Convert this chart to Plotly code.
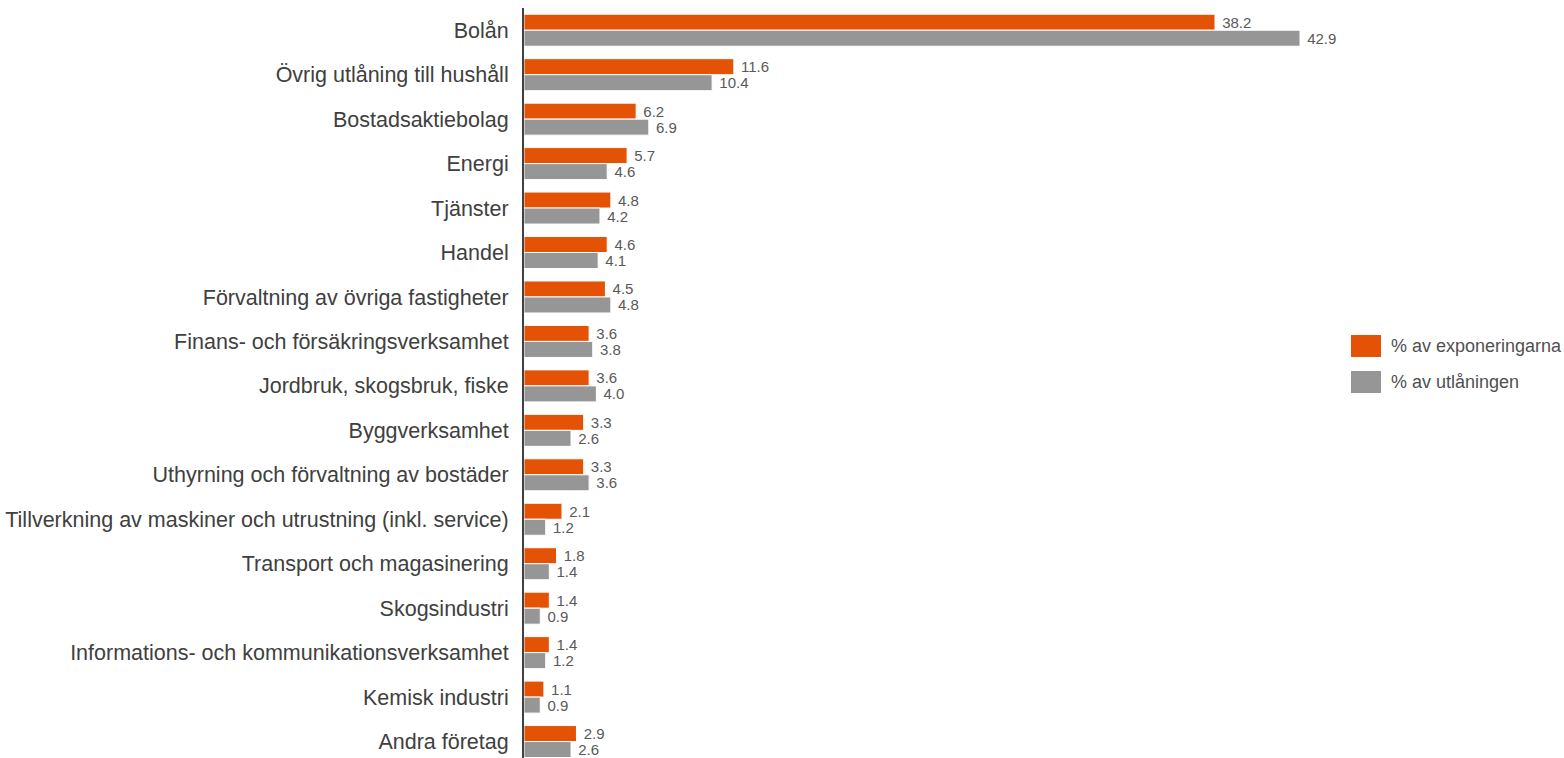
import plotly.graph_objects as go

categories = [
    "Bolån",
    "Övrig utlåning till hushåll",
    "Bostadsaktiebolag",
    "Energi",
    "Tjänster",
    "Handel",
    "Förvaltning av övriga fastigheter",
    "Finans- och försäkringsverksamhet",
    "Jordbruk, skogsbruk, fiske",
    "Byggverksamhet",
    "Uthyrning och förvaltning av bostäder",
    "Tillverkning av maskiner och utrustning (inkl. service)",
    "Transport och magasinering",
    "Skogsindustri",
    "Informations- och kommunikationsverksamhet",
    "Kemisk industri",
    "Andra företag",
]
exponeringar = [38.2, 11.6, 6.2, 5.7, 4.8, 4.6, 4.5, 3.6, 3.6, 3.3, 3.3, 2.1, 1.8, 1.4, 1.4, 1.1, 2.9]
utlaning = [42.9, 10.4, 6.9, 4.6, 4.2, 4.1, 4.8, 3.8, 4.0, 2.6, 3.6, 1.2, 1.4, 0.9, 1.2, 0.9, 2.6]
series_names = ["% av exponeringarna", "% av utlåningen"]

ORANGE = "#E35205"
GREY = "#969696"
FONT = "Liberation Sans, Arial, sans-serif"

fig = go.Figure()
for name, vals, col in [(series_names[0], exponeringar, ORANGE), (series_names[1], utlaning, GREY)]:
    fig.add_trace(go.Bar(
        y=categories, x=vals, orientation="h", name=name,
        marker=dict(color=col, line=dict(color="white", width=1)),
        text=[f"\u00a0{v:.1f}" for v in vals], textposition="outside",
        constraintext="none", cliponaxis=False,
        textfont=dict(family=FONT, size=15, color="#595959"),
        showlegend=False,
    ))

# legend drawn as swatches + labels
for i, (name, col) in enumerate(zip(series_names, [ORANGE, GREY])):
    yc = 346 + 36 * i
    fig.add_shape(type="rect", xref="paper", yref="paper",
                  x0=(1351 - 524) / 814, x1=(1381 - 524) / 814,
                  y0=1 - (yc - 11 - 8) / 750, y1=1 - (yc + 11 - 8) / 750,
                  fillcolor=col, line=dict(width=0))
    fig.add_annotation(xref="paper", yref="paper", x=(1389 - 524) / 814,
                       y=1 - (yc - 8) / 750, text=name, showarrow=False,
                       xanchor="left", yanchor="middle",
                       font=dict(family=FONT, size=18, color="#505050"))

fig.update_layout(
    width=1564, height=758,
    margin=dict(l=524, r=226, t=8, b=0),
    barmode="group", bargap=0.28, bargroupgap=0,
    plot_bgcolor="white", paper_bgcolor="white",
    font=dict(family=FONT, color="#404040"),
    xaxis=dict(range=[0, 45], visible=False, showgrid=False, zeroline=False),
    yaxis=dict(type="category", range=[16.37, -0.5], showgrid=False, zeroline=False,
               showline=True, linecolor="#404040", linewidth=2, ticks="",
               automargin=False, ticklabelstandoff=9,
               tickfont=dict(family=FONT, size=21.5, color="#404040")),
)

fig.write_html("out.html")
